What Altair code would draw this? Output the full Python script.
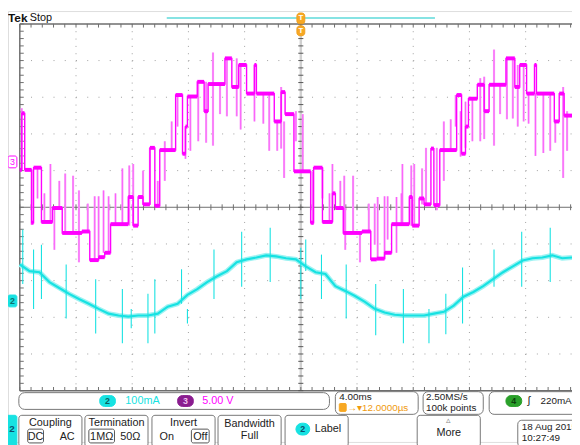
import altair as alt
import pandas as pd

# Channel 3 (magenta, 5 V/div): staircase levels, time in ms, value in volts
ch3_t = [-20.0, -19.86, -19.65, -19.16, -19.02, -18.46, -17.68, -16.98, -15.58, -15.02,
         -14.39, -13.96, -13.54, -12.28, -11.93, -11.58, -11.23, -10.74, -10.39, -10.04,
         -8.91, -8.42, -8.21, -8.07, -7.37, -6.88, -6.60, -5.40, -4.91, -4.42,
         -3.86, -3.30, -3.16, -1.89, -1.40, -1.12, -0.49, 0.70, 0.91, 1.54,
         2.25, 2.46, 3.02, 4.35, 4.98, 5.40, 5.96, 6.46, 7.72, 7.93,
         8.42, 8.77, 9.26, 9.47, 9.89, 11.09, 11.44, 11.72, 11.93, 12.56,
         13.05, 13.40, 14.60, 15.23, 15.58, 16.07, 16.63, 16.77, 18.04, 18.39,
         18.74, 19.30]
ch3_v = [-1.1, 6.6, -1.1, -8.3, -0.8, -8.2, -6.3, -9.7, -9.5, -13.4,
         -13.0, -12.4, -8.5, -4.8, -8.7, -4.8, -5.8, 1.9, -6.0, 1.6,
         9.1, 1.1, 4.8, 8.9, 10.9, 6.9, 10.6, 14.1, 10.2, 13.2,
         9.3, 13.2, 9.3, 5.5, 9.5, 6.5, -1.3, -8.3, -0.8, -8.2,
         -4.3, -6.3, -9.7, -9.5, -13.3, -13.2, -12.4, -8.5, -4.8, -8.7,
         -5.0, -5.8, 1.8, -5.9, 1.6, 9.1, 1.1, 4.8, 8.6, 10.5,
         6.9, 10.5, 14.1, 10.2, 13.2, 9.3, 13.2, 9.3, 5.5, 9.3,
         6.3, 6.3]

# Channel 3 glitch spikes: time (ms), top (V), bottom (V)
sp3_t = [-19.86, -19.16, -18.74, -18.25, -17.82, -17.54, -17.19, -16.77, -16.21, -15.79,
         -15.16, -14.67, -14.39, -14.04, -13.68, -13.19, -12.70, -12.21, -11.93, -11.23,
         -10.74, -10.18, -9.68, -9.19, -8.77, -8.21, -7.86, -7.30, -6.74, -6.25,
         -5.75, -5.26, -4.56, -4.28, -3.30, -2.67, -2.25, -1.68, -1.40, -1.19,
         -0.35, 0.14, 0.84, 1.54, 2.04, 2.25, 2.81, 3.09, 3.16, 3.72,
         4.21, 4.84, 5.26, 5.47, 5.96, 6.18, 6.81, 7.16, 7.23, 7.86,
         8.07, 8.63, 8.91, 9.68, 10.18, 10.67, 11.02, 11.37, 11.72, 12.21,
         12.77, 13.05, 13.75, 14.18, 14.67, 15.09, 15.44, 15.86, 16.21, 16.70,
         17.26, 17.75, 18.11, 18.67, 18.95]
sp3_hi = [7.3, -1.1, -0.8, -4.3, -0.3, -6.3, -2.6, -1.6, -1.9, -3.9,
          -5.7, -4.7, -4.7, -3.9, -4.7, -4.3, -0.9, -0.5, -0.3, -1.2,
          1.9, -2.6, 2.8, 5.5, 9.1, 4.8, 8.9, 10.9, 10.9, 14.9,
          10.6, 14.1, 14.1, 13.2, 13.2, 9.3, 9.3, 5.5, 10.2, 5.5,
          6.9, 6.5, -1.3, -0.8, -4.3, -0.3, -2.6, -1.9, -6.3, -1.9,
          -9.8, -5.7, -5.7, -4.8, -4.7, -4.7, -4.8, -4.3, -0.3, -0.5,
          -0.3, -0.9, 1.9, 1.9, 5.5, 5.8, 9.1, 6.9, 8.2, 8.6,
          11.4, 11.6, 15.3, 10.5, 14.1, 14.1, 13.2, 13.2, 9.3, 9.3,
          9.3, 9.3, 5.5, 10.2, 6.9]
sp3_lo = [-1.1, -8.6, -5.0, -8.2, -8.2, -12.0, -6.3, -9.8, -9.8, -13.7,
          -9.5, -13.4, -13.0, -12.4, -12.4, -8.5, -8.5, -8.7, -8.7, -5.8,
          -5.8, -6.0, -2.6, 1.6, 4.8, 0.4, 1.5, 2.8, 2.6, 2.2,
          6.5, 6.2, 6.2, 4.4, 5.5, 5.2, 1.5, 1.5, 1.8, -2.2,
          2.8, -1.3, -8.6, -5.0, -8.2, -8.2, -6.3, -9.8, -12.0, -9.8,
          -13.7, -9.7, -11.3, -13.4, -13.3, -10.6, -12.4, -8.5, -8.7, -8.7,
          -8.7, -5.8, -5.8, -6.6, -2.6, 1.6, 4.8, 0.7, 1.9, 2.8,
          2.8, 3.1, 2.2, 6.5, 5.8, 5.9, 4.8, 5.5, 5.2, 0.8,
          1.2, 1.5, 2.6, -2.2, 1.5]

# Channel 2 (cyan, 100 mA/div): trace, time (ms) and current (mA)
ch2_t = [-20.0, -19.30, -18.60, -17.89, -17.19, -16.49, -15.79, -15.09, -14.39, -13.68,
         -12.98, -12.28, -11.58, -10.88, -10.18, -9.47, -8.77, -8.07, -7.37, -6.67,
         -5.96, -5.26, -4.56, -3.86, -3.16, -2.46, -1.75, -1.05, -0.35, 0.35,
         1.05, 1.75, 2.46, 3.16, 3.86, 4.56, 5.26, 5.96, 6.67, 7.37,
         8.07, 8.77, 9.47, 10.18, 10.88, 11.58, 12.28, 12.98, 13.68, 14.39,
         15.09, 15.79, 16.49, 17.19, 17.89, 18.60, 19.30]
ch2_ma = [99, 81, 78, 51, 35, 19, 5, -8, -22, -35,
          -40, -43, -40, -40, -35, -16, -8, 16, 32, 51,
          67, 81, 105, 113, 118, 124, 121, 116, 113, 94,
          78, 73, 40, 27, 13, -3, -22, -32, -38, -40,
          -40, -40, -35, -30, -13, 11, 24, 40, 59, 78,
          94, 110, 116, 118, 124, 116, 118]

# Channel 2 noise spikes: time (ms), top (mA), bottom (mA)
sp2_t = [-19.79, -19.02, -18.46, -16.70, -14.60, -12.70, -12.07, -10.88, -10.39, -8.49,
         -8.07, -6.18, -4.21, -2.18, 0.0, 0.35, 1.47, 3.23, 5.33, 7.30,
         9.12, 10.32, 11.51, 13.75, 15.72, 17.75]
sp2_hi = [194, 140, 153, 99, 59, 32, -22, 19, 59, 86,
          -22, 140, 188, 199, 145, 167, 126, 99, 46, 32,
          -22, 19, 91, 140, 188, 199]
sp2_lo = [46, -22, 5, -48, -89, -116, -75, -116, -89, -8,
          -62, 5, 38, 51, 5, 81, 5, -48, -94, -116,
          -116, -91, -62, 38, 38, 51]

# ---------------- screen geometry (Tek graticule) ----------------
CH3_V_PER_DIV = 5.0
CH2_MA_PER_DIV = 100.0
CH3_OFFSET = 1.24    # divisions above centre
CH2_OFFSET = -2.55   # divisions below centre

W, H = 572, 437
X_DOM = [-20.84, 19.30]
Y_DOM = [-6.398, 5.35]
xs = alt.Scale(domain=X_DOM, range=[0, W], nice=False, zero=False)
ys = alt.Scale(domain=Y_DOM, range=[H, 0], nice=False, zero=False)


def X(f="t"):
    return alt.X(f, type="quantitative", scale=xs, axis=None)


def Y(f="d"):
    return alt.Y(f, type="quantitative", scale=ys, axis=None)


GRID = "#a0a0a0"
FRAME = "#6e6e6e"
CYAN = "#17e2e2"
CYAN_L = "#9cf2f2"
MAG = "#ff00ff"
PINK = "#f8a6f8"

# graticule tables
vt = [-16, -12, -8, -4, 4, 8, 12, 16, 20]
hd = [4, 3, 2, 1, -1, -2, -3, -4]
vlines = pd.DataFrame({"t": vt, "d": [5] * len(vt), "d2": [-5] * len(vt)})
hlines = pd.DataFrame({"d": hd, "t": [-20] * len(hd), "t2": [20] * len(hd)})

minor_t = [round(-20 + 0.8 * k, 2) for k in range(51)]
minor_d = [round(-5 + 0.2 * k, 2) for k in range(51)]
n_t, n_d = len(minor_t), len(minor_d)


def rule_v(df, color, sw, dash=None):
    kw = dict(color=color, strokeWidth=sw)
    if dash:
        kw["strokeDash"] = dash
    return alt.Chart(df).mark_rule(**kw).encode(x=X("t"), y=Y("d"), y2="d2")


def rule_h(df, color, sw, dash=None):
    kw = dict(color=color, strokeWidth=sw)
    if dash:
        kw["strokeDash"] = dash
    return alt.Chart(df).mark_rule(**kw).encode(y=Y("d"), x=X("t"), x2="t2")


v_dot = rule_v(vlines, GRID, 1, [1, 6.44])
h_dot = rule_h(hlines, GRID, 1, [1, 10.4])
c_v = rule_v(pd.DataFrame({"t": [0], "d": [5], "d2": [-5]}), "#d0d0d0", 2.5)
c_h = rule_h(pd.DataFrame({"d": [0], "t": [-20], "t2": [20]}), FRAME, 1)
frame_l = rule_v(pd.DataFrame({"t": [-20], "d": [5], "d2": [-5]}), FRAME, 1.5)
frame_t = rule_h(pd.DataFrame({"d": [5], "t": [-20], "t2": [20]}), FRAME, 1.5)
frame_b = rule_h(pd.DataFrame({"d": [-5], "t": [-20], "t2": [20]}), FRAME, 1.5)

tk_h = rule_v(pd.DataFrame({"t": minor_t, "d": [0.08] * n_t, "d2": [-0.08] * n_t}), FRAME, 1)
tk_top = rule_v(pd.DataFrame({"t": minor_t, "d": [5] * n_t, "d2": [4.9] * n_t}), FRAME, 1)
tk_bot = rule_v(pd.DataFrame({"t": minor_t, "d": [-5] * n_t, "d2": [-4.9] * n_t}), FRAME, 1)
tk_v = rule_h(pd.DataFrame({"d": minor_d, "t": [-0.18] * n_d, "t2": [0.18] * n_d}), "#555555", 1)
tk_l = rule_h(pd.DataFrame({"d": minor_d, "t": [-20] * n_d, "t2": [-19.72] * n_d}), FRAME, 1)

# ---------------- traces ----------------
ch3 = pd.DataFrame({"t": ch3_t, "v": ch3_v})
seg3 = pd.DataFrame({"t": ch3_t[:-1], "t2": ch3_t[1:], "v": ch3_v[:-1]})
sp3 = pd.DataFrame({"t": sp3_t, "hi": sp3_hi, "lo": sp3_lo})
ch2 = pd.DataFrame({"t": ch2_t, "ma": ch2_ma})
sp2 = pd.DataFrame({"t": sp2_t, "hi": sp2_hi, "lo": sp2_lo})

calc3 = f"datum.v / {CH3_V_PER_DIV} + {CH3_OFFSET}"
hi3 = f"datum.hi / {CH3_V_PER_DIV} + {CH3_OFFSET}"
lo3 = f"datum.lo / {CH3_V_PER_DIV} + {CH3_OFFSET}"

sp3_light = alt.Chart(sp3).transform_calculate(d=hi3, d2=lo3).mark_rule(
    color=PINK, strokeWidth=2.2).encode(x=X(), y=Y("d"), y2="d2")
sp3_dark = alt.Chart(sp3).transform_calculate(d=hi3, d2=lo3).mark_rule(
    color=MAG, strokeWidth=0.8, opacity=0.55).encode(x=X(), y=Y("d"), y2="d2")
step3 = alt.Chart(ch3).transform_calculate(d=calc3).mark_line(
    color=MAG, strokeWidth=1.4, interpolate="step-after").encode(x=X(), y=Y(), order="t:Q")
lev3 = alt.Chart(seg3).transform_calculate(d=calc3).mark_rule(
    color=MAG, strokeWidth=4).encode(x=X("t"), x2="t2", y=Y())

calc2 = f"datum.ma / {CH2_MA_PER_DIV} + {CH2_OFFSET}"
hi2 = f"datum.hi / {CH2_MA_PER_DIV} + {CH2_OFFSET}"
lo2 = f"datum.lo / {CH2_MA_PER_DIV} + {CH2_OFFSET}"
sp2_r = alt.Chart(sp2).transform_calculate(d=hi2, d2=lo2).mark_rule(
    color=CYAN, strokeWidth=1.1).encode(x=X(), y=Y("d"), y2="d2")
band2 = alt.Chart(ch2).transform_calculate(d=calc2).mark_line(
    color=CYAN_L, strokeWidth=5).encode(x=X(), y=Y(), order="t:Q")
line2 = alt.Chart(ch2).transform_calculate(d=calc2).mark_line(
    color=CYAN, strokeWidth=2.2).encode(x=X(), y=Y(), order="t:Q")

# ---------------- scope chrome (screen pixel positions) ----------------
FONT = "Liberation Sans"
INK = "#222222"


def one():
    return pd.DataFrame({"a": [0]})


def box(x1, y1, x2, y2, stroke="#8a8a8a", fill="white", r=4, sw=1):
    return alt.Chart(one()).mark_rect(stroke=stroke, fill=fill, cornerRadius=r, strokeWidth=sw).encode(
        x=alt.value(x1 - 8), x2=alt.value(x2 - 8), y=alt.value(y1 - 8), y2=alt.value(y2 - 8))


def txt(x, y, s, color=INK, size=10, weight="normal", align="left"):
    return alt.Chart(one()).mark_text(text=s, color=color, fontSize=size, fontWeight=weight,
                                      align=align, baseline="middle", font=FONT).encode(
        x=alt.value(x - 8), y=alt.value(y - 8))


def hline(x1, x2, y, color, sw=1):
    return alt.Chart(one()).mark_rule(color=color, strokeWidth=sw).encode(
        x=alt.value(x1 - 8), x2=alt.value(x2 - 8), y=alt.value(y - 8))


def softkey(x1):
    return box(x1, 418, x1 + 64, 450, stroke="#777777", r=3)


chrome = [
    txt(8, 15, "Tek", "#111111", 12, "bold"),
    txt(30, 15, "Stop", "#111111", 11),
    hline(169, 441, 15, "#86e3e3", 2),
    box(301, 10, 309, 21, stroke="#f0a020", fill="#f7a823", r=3),
    txt(305, 15.5, "T", "white", 8, "bold", "center"),
    box(301, 23, 309, 33, stroke="#f0a020", fill="#f7a823", r=3),
    txt(305, 28, "T", "white", 8, "bold", "center"),
    box(8, 155, 17, 167, stroke=MAG, fill="white", r=2),
    txt(12.5, 161, "3", MAG, 9, "normal", "center"),
    box(8, 296, 17, 308, stroke=CYAN, fill=CYAN, r=2),
    txt(12.5, 302, "2", "#0a6f6f", 9, "bold", "center"),
    # status bar
    box(19, 395, 334, 412, stroke="#777777", r=6),
    box(101, 398, 117, 409, stroke=CYAN, fill=CYAN, r=5),
    txt(109, 403.5, "2", "#0b5f5f", 9, "bold", "center"),
    txt(127, 403.5, "100mA", CYAN, 11),
    box(180, 398, 196, 409, stroke="#8a1c8f", fill="#8a1c8f", r=5),
    txt(188, 403.5, "3", "#f0c0f0", 9, "bold", "center"),
    txt(205, 403.5, "5.00 V", MAG, 11),
    box(340, 394, 424, 417, stroke="#777777", r=5),
    txt(344, 399.5, "4.00ms", INK, 10),
    box(344, 406, 351, 414, stroke="#f7a823", fill="#f7a823", r=1),
    txt(352, 410.5, "→▾12.0000µs", "#f09a10", 10),
    box(429, 394, 490, 417, stroke="#777777", r=5),
    txt(432, 399.5, "2.50MS/s", INK, 10),
    txt(432, 410.5, "100k points", INK, 10),
    box(496, 394, 600, 417, stroke="#777777", r=5),
    box(513, 398, 529, 409, stroke="#2aa02a", fill="#2aa02a", r=5),
    txt(521, 403.5, "4", "#0c3f0c", 9, "bold", "center"),
    txt(535, 403.5, "ʃ", INK, 11),
    txt(548, 403.5, "220mA", INK, 10),
    # softkey row (seven keys on a 67 px pitch, sixth one blank)
    box(6, 418, 17, 450, stroke=CYAN, fill=CYAN, r=2),
    txt(12, 432, "2", "#0b4f6f", 10, "bold", "center"),
    softkey(19),
    txt(51, 426, "Coupling", INK, 11, align="center"),
    box(28, 432, 44, 446, stroke="#555555", r=2),
    txt(36, 440, "DC", INK, 11, align="center"),
    txt(68, 440, "AC", INK, 11, align="center"),
    softkey(86),
    txt(118, 426, "Termination", INK, 11, align="center"),
    box(90, 432, 116, 446, stroke="#555555", r=2),
    txt(103, 440, "1MΩ", INK, 11, align="center"),
    txt(132, 440, "50Ω", INK, 11, align="center"),
    softkey(154),
    txt(186, 426, "Invert", INK, 11, align="center"),
    txt(169, 440, "On", INK, 11, align="center"),
    box(194, 432, 212, 446, stroke="#555555", r=2),
    txt(203, 440, "Off", INK, 11, align="center"),
    softkey(221),
    txt(253, 427, "Bandwidth", INK, 11, align="center"),
    txt(253, 439, "Full", INK, 11, align="center"),
    softkey(289),
    box(300, 426, 314, 438, stroke=CYAN, fill=CYAN, r=6),
    txt(307, 432, "2", "#0b4f6f", 9, "bold", "center"),
    txt(319, 432, "Label", INK, 11),
    softkey(423),
    txt(455, 423, "▵", "#888888", 9, align="center"),
    txt(455, 436, "More", INK, 11, align="center"),
    box(525, 423, 600, 450, stroke="#777777", r=4),
    txt(529, 430, "18 Aug 2015", INK, 10),
    txt(529, 441, "10:27:49", INK, 10),
]

chart = alt.layer(
    v_dot, h_dot, c_v, c_h, frame_l, frame_t, frame_b, tk_h, tk_top, tk_bot, tk_v, tk_l,
    band2, sp2_r, line2,
    sp3_light, sp3_dark, step3, lev3,
    *chrome
).properties(
    width=W, height=H, autosize=alt.AutoSizeParams(type="none"), padding=0
).configure_view(stroke=None).configure(background="white")

chart.save("out.html", embed_options={"renderer": "svg", "actions": False})
